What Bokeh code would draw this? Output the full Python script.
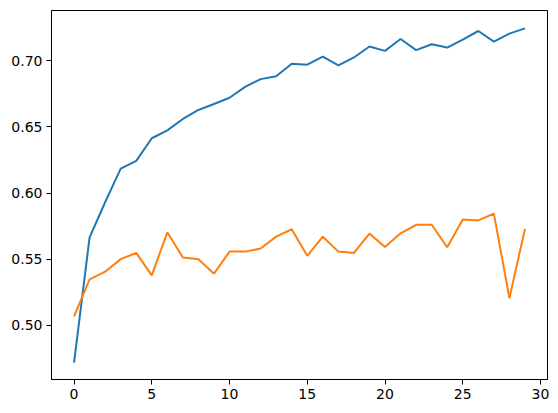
from bokeh.plotting import figure
from bokeh.models import FixedTicker, NumeralTickFormatter, Range1d
from bokeh.embed import file_html
from bokeh.resources import INLINE

epochs = list(range(30))
series_blue = [0.4717, 0.5665, 0.5930, 0.6185, 0.6243, 0.6414, 0.6474, 0.6560, 0.6628, 0.6673,
               0.6720, 0.6803, 0.6861, 0.6883, 0.6978, 0.6970, 0.7032, 0.6965, 0.7025, 0.7108,
               0.7075, 0.7165, 0.7080, 0.7125, 0.7100, 0.7160, 0.7225, 0.7145, 0.7205, 0.7245]
series_orange = [0.5068, 0.5347, 0.5405, 0.5500, 0.5547, 0.5377, 0.5703, 0.5512, 0.5500, 0.5390,
                 0.5557, 0.5557, 0.5580, 0.5670, 0.5726, 0.5525, 0.5670, 0.5557, 0.5547, 0.5693,
                 0.5592, 0.5695, 0.5760, 0.5760, 0.5590, 0.5800, 0.5793, 0.5844, 0.5205, 0.5728]
x_ticks = [0, 5, 10, 15, 20, 25, 30]
y_ticks = [0.50, 0.55, 0.60, 0.65, 0.70]

p = figure(frame_width=496, frame_height=369, output_backend="svg", toolbar_location=None,
           min_border_left=51, min_border_right=4, min_border_top=10, min_border_bottom=26,
           x_range=Range1d(-1.45, 30.45), y_range=Range1d(0.4590, 0.7380))
p.line(epochs, series_blue, line_color="#1f77b4", line_width=2)
p.line(epochs, series_orange, line_color="#ff7f0e", line_width=2)

p.xgrid.visible = False
p.ygrid.visible = False
p.outline_line_color = "black"
p.outline_line_width = 1
p.outline_line_alpha = 1
p.background_fill_color = "white"
p.border_fill_color = "white"

p.xaxis.ticker = FixedTicker(ticks=x_ticks)
p.yaxis.ticker = FixedTicker(ticks=y_ticks)
p.yaxis.formatter = NumeralTickFormatter(format="0.00")
for ax in (p.xaxis, p.yaxis):
    ax.axis_line_color = "black"
    ax.major_tick_line_color = "black"
    ax.major_tick_out = 5
    ax.major_tick_in = 0
    ax.minor_tick_line_color = None
    ax.major_label_text_font = "DejaVu Sans"
    ax.major_label_text_font_size = "14px"
    ax.major_label_text_color = "black"
    ax.major_label_standoff = 4

open("out.html", "w").write(file_html(p, INLINE))
